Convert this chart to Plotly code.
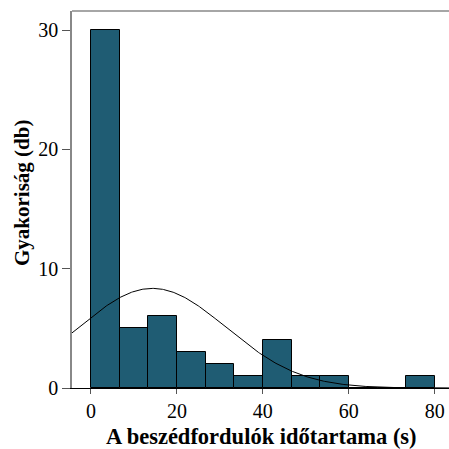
import numpy as np
import plotly.graph_objects as go

bin_width = 80 / 12
bin_starts = [0, 6.667, 13.333, 20, 26.667, 33.333, 40, 46.667, 53.333, 60, 66.667, 73.333]
counts = [30, 5, 6, 3, 2, 1, 4, 1, 1, 0, 0, 1]
x_ticks = [0, 20, 40, 60, 80]
y_ticks = [0, 10, 20, 30]
fit_mean = 14.3
fit_sd = 17.2
n_total = sum(counts)

centers = [s + bin_width / 2 for s in bin_starts]
xs = np.linspace(-5, 85, 400)
ys = n_total * bin_width / (fit_sd * np.sqrt(2 * np.pi)) * np.exp(-((xs - fit_mean) ** 2) / (2 * fit_sd ** 2))

fig = go.Figure()
fig.add_trace(go.Bar(x=centers, y=counts, width=bin_width,
                     marker=dict(color="#1f5c73", line=dict(color="#000000", width=1))))
fig.add_trace(go.Scatter(x=xs, y=ys, mode="lines", line=dict(color="#000000", width=1)))

font = "Liberation Serif, Times New Roman, serif"
fig.update_layout(
    width=449, height=449,
    margin=dict(l=72, r=0, t=11, b=61, autoexpand=False),
    plot_bgcolor="white", paper_bgcolor="white",
    showlegend=False, bargap=0,
    font=dict(family=font, size=20, color="#000000"),
    xaxis=dict(range=[-4.4, 83.3], tickvals=x_ticks, ticks="outside", ticklen=5,
               tickcolor="#555555", showline=True, linecolor="#000000", linewidth=1,
               showgrid=False, zeroline=False, mirror=False, automargin=False,
               tickfont=dict(size=20)),
    yaxis=dict(range=[0, 31.6], tickvals=y_ticks, ticks="outside", ticklen=8,
               tickcolor="#555555", showline=True, linecolor="#888888", linewidth=1.5,
               showgrid=False, zeroline=False, automargin=False,
               tickfont=dict(size=20)),
)
fig.add_shape(type="line", xref="paper", yref="paper", x0=0, x1=1, y0=1, y1=1,
              line=dict(color="#888888", width=1.5))
# axis titles as annotations for exact placement
fig.add_annotation(text="<b>A beszédfordulók időtartama (s)</b>", xref="paper", yref="paper",
                   x=(261 - 72) / 377, y=-(436 - 388) / 377, xanchor="center", yanchor="middle",
                   showarrow=False, font=dict(size=22.5, family=font))
fig.add_annotation(text="<b>Gyakoriság (db)</b>", xref="paper", yref="paper",
                   x=-(72 - 22) / 377, y=(388 - 193) / 377, xanchor="center", yanchor="middle",
                   textangle=-90, showarrow=False, font=dict(size=21, family=font))
fig.write_html("out.html", config={"displayModeBar": False},
               post_script="document.body.style.margin='0';")
